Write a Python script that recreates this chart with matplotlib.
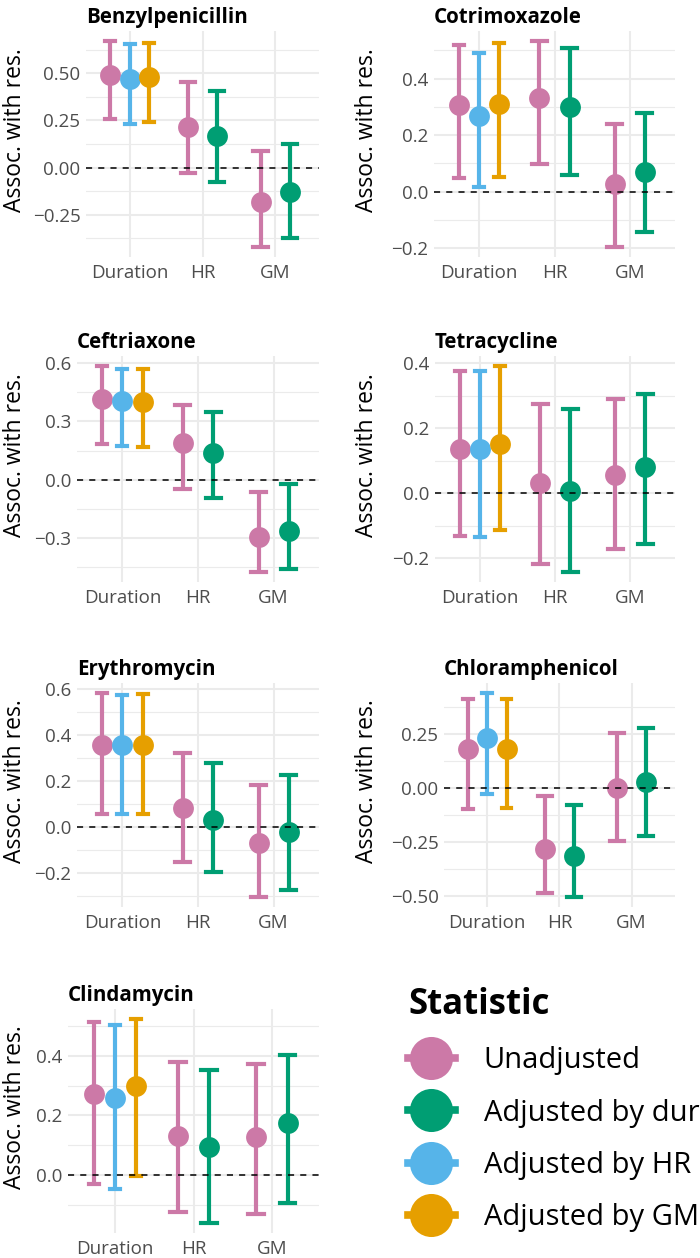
import numpy as np
import matplotlib
matplotlib.use('Agg')
import matplotlib.pyplot as plt
from matplotlib.ticker import MultipleLocator, FuncFormatter
from matplotlib.lines import Line2D

plt.rcParams['font.family'] = ['Open Sans', 'DejaVu Sans']

# rows of every panel: (term, statistic)
row_term = ['Duration', 'Duration', 'Duration', 'HR', 'HR', 'GM', 'GM']
row_stat = ['Unadjusted', 'Adjusted by HR', 'Adjusted by GM',
            'Unadjusted', 'Adjusted by duration',
            'Unadjusted', 'Adjusted by duration']
terms = ['Duration', 'HR', 'GM']
stat_names = ['Unadjusted', 'Adjusted by duration', 'Adjusted by HR', 'Adjusted by GM']
stat_colors = ['#CC79A7', '#009E73', '#56B4E9', '#E69F00']

drugs = ['Benzylpenicillin', 'Cotrimoxazole', 'Ceftriaxone', 'Tetracycline',
         'Erythromycin', 'Chloramphenicol', 'Clindamycin']

benzyl_est = [0.49, 0.47, 0.478, 0.216, 0.166, -0.183, -0.13]
benzyl_lo = [0.257, 0.23, 0.241, -0.029, -0.077, -0.42, -0.374]
benzyl_hi = [0.67, 0.656, 0.66, 0.452, 0.407, 0.087, 0.124]

cotrim_est = [0.307, 0.267, 0.31, 0.331, 0.301, 0.028, 0.07]
cotrim_lo = [0.048, 0.016, 0.05, 0.097, 0.06, -0.195, -0.144]
cotrim_hi = [0.52, 0.489, 0.527, 0.532, 0.509, 0.241, 0.278]

ceftri_est = [0.418, 0.407, 0.40, 0.187, 0.137, -0.292, -0.261]
ceftri_lo = [0.184, 0.172, 0.168, -0.046, -0.094, -0.473, -0.46]
ceftri_hi = [0.584, 0.57, 0.57, 0.385, 0.349, -0.063, -0.021]

tetra_est = [0.137, 0.137, 0.15, 0.031, 0.006, 0.055, 0.08]
tetra_lo = [-0.132, -0.135, -0.115, -0.218, -0.242, -0.173, -0.158]
tetra_hi = [0.374, 0.374, 0.39, 0.273, 0.26, 0.289, 0.305]

erythro_est = [0.357, 0.354, 0.357, 0.084, 0.029, -0.072, -0.022]
erythro_lo = [0.058, 0.058, 0.054, -0.152, -0.198, -0.304, -0.275]
erythro_hi = [0.581, 0.574, 0.577, 0.321, 0.279, 0.18, 0.226]

chloram_est = [0.179, 0.231, 0.18, -0.283, -0.315, 0.0, 0.028]
chloram_lo = [-0.098, -0.029, -0.092, -0.49, -0.506, -0.245, -0.226]
chloram_hi = [0.409, 0.438, 0.412, -0.038, -0.08, 0.254, 0.275]

clinda_est = [0.272, 0.259, 0.298, 0.132, 0.093, 0.128, 0.175]
clinda_lo = [-0.03, -0.047, -0.003, -0.126, -0.161, -0.131, -0.093]
clinda_hi = [0.514, 0.502, 0.523, 0.378, 0.351, 0.372, 0.402]

panel_data = [
    (benzyl_est, benzyl_lo, benzyl_hi),
    (cotrim_est, cotrim_lo, cotrim_hi),
    (ceftri_est, ceftri_lo, ceftri_hi),
    (tetra_est, tetra_lo, tetra_hi),
    (erythro_est, erythro_lo, erythro_hi),
    (chloram_est, chloram_lo, chloram_hi),
    (clinda_est, clinda_lo, clinda_hi),
]
tick_step = [0.25, 0.2, 0.3, 0.2, 0.2, 0.25, 0.2]
tick_dec = [2, 1, 1, 1, 1, 2, 1]

# panel rectangles in pixels: left, top, right, bottom
W, H = 700, 1258
rects = [(86, 31, 319, 257), (434, 31, 675, 257),
         (77, 356, 319, 582), (435, 356, 675, 582),
         (77, 683, 319, 907), (444, 683, 675, 907),
         (68, 1009, 319, 1233)]
ylab_x = [15, 367, 15, 367, 15, 367, 15]

fig = plt.figure(figsize=(W / 100, H / 100), dpi=100)
grey_txt = '#4D4D4D'
grid_c = '#EBEBEB'

for k, drug in enumerate(drugs):
    l, t, r, b = rects[k]
    ax = fig.add_axes([l / W, 1 - b / H, (r - l) / W, (b - t) / H])
    est, lo, hi = (np.array(a) for a in panel_data[k])

    # dodge positions (width 0.8) within each term
    xs = np.zeros(len(est))
    widths = np.zeros(len(est))
    for ti, term in enumerate(terms):
        idx = [i for i, tt in enumerate(row_term) if tt == term]
        n = len(idx)
        for j, i in enumerate(idx):
            xs[i] = ti + 1 + (j - (n - 1) / 2) * 0.8 / n
            widths[i] = 0.4 / n

    for i in range(len(est)):
        c = stat_colors[stat_names.index(row_stat[i])]
        ax.vlines(xs[i], lo[i], hi[i], color=c, lw=3.0, zorder=3)
        ax.hlines([lo[i], hi[i]], xs[i] - widths[i] / 2, xs[i] + widths[i] / 2,
                  color=c, lw=3.0, zorder=3, capstyle='projecting')
    for i in range(len(est)):
        c = stat_colors[stat_names.index(row_stat[i])]
        ax.plot(xs[i], est[i], 'o', color=c, ms=15, mec='none', zorder=4)

    ax.axhline(0, color='black', lw=1.1, ls=(0, (4, 4)), zorder=5)

    ymin, ymax = lo.min(), hi.max()
    pad = (ymax - ymin) * 0.05
    ax.set_ylim(ymin - pad, ymax + pad)
    ax.set_xlim(0.4, 3.6)
    ax.set_xticks([1, 2, 3])
    ax.set_xticklabels(terms)
    step = tick_step[k]
    dec = tick_dec[k]
    ax.yaxis.set_major_locator(MultipleLocator(step))
    ax.yaxis.set_minor_locator(MultipleLocator(step / 2))
    ax.yaxis.set_major_formatter(FuncFormatter(
        lambda v, p, d=dec: f'{v:.{d}f}'.replace('-', '\u2212') if abs(v) > 1e-9 else f'{0:.{d}f}'))

    ax.grid(which='major', color=grid_c, lw=1.5, zorder=0)
    ax.grid(which='minor', axis='y', color=grid_c, lw=0.8, zorder=0)
    ax.set_axisbelow(True)
    for s in ax.spines.values():
        s.set_visible(False)
    ax.tick_params(which='both', length=0, labelsize=13.5, labelcolor=grey_txt)
    ax.tick_params(axis='x', pad=5)
    ax.tick_params(axis='y', pad=4)

    ax.set_title(drug, loc='left', fontweight='bold', fontsize=14.8, pad=6)
    ax.set_ylabel('Assoc. with res.', fontsize=16.5, va='center')
    ax.yaxis.set_label_coords(ylab_x[k] / W, 1 - ((t + b) / 2 - 14) / H,
                              transform=fig.transFigure)

handles = [Line2D([0], [0], color=c, lw=5.5, marker='o', ms=31, mec='none')
           for c in stat_colors]
leg = fig.legend(handles, stat_names, loc='upper left',
                 bbox_to_anchor=(408 / W, 1 - 987 / H), frameon=False,
                 title='Statistic', alignment='left', fontsize=21,
                 title_fontproperties={'weight': 'bold', 'size': 25},
                 handlelength=1.6, handletextpad=1.0, labelspacing=0.8,
                 borderpad=0, borderaxespad=0)

fig.savefig('out.png', dpi=100)
